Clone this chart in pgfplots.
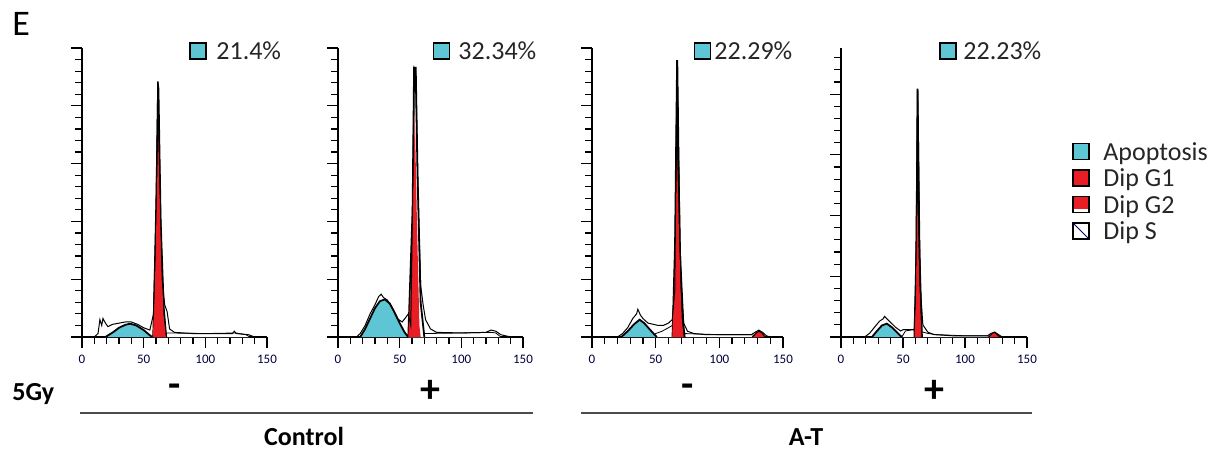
\documentclass[border=0pt]{standalone}
\usepackage{pgfplots}
\pgfplotsset{compat=1.18}
\usepackage{fontspec}
\setmainfont{Carlito}
\definecolor{apo}{RGB}{94,197,212}
\definecolor{dipred}{RGB}{232,30,36}

% one DNA-content histogram per panel, 1px of the reference = 0.5pt
\pgfplotsset{hist/.style={
  scale only axis, height=144.5pt, anchor=south west,
  xmin=0, xmax=150, ymin=0,
  axis lines*=left, clip=false,
  xtick={0,50,100,150}, minor x tick num=4,
  ytick distance=5, minor y tick num=4, yticklabels={},
  tick align=outside, major tick length=5.5pt, minor tick length=3.5pt,
  axis line style={line width=0.8pt}, tick style={black, line width=0.6pt},
  xticklabel style={font=\fontsize{6.5}{7}\selectfont, text=black!70!blue!80!black},
  /pgf/number format/assume math mode=true},
  sfill/.style={draw=black, line width=0.4pt, fill=white},
  apofill/.style={fill=apo, draw=black, line width=0.9pt},
  spike/.style={fill=black, draw=black, line width=0.6pt},
  g1fill/.style={fill=dipred, draw=none},
  raw/.style={black, line width=0.5pt}}

\newcommand{\pct}[3]{% square centre x, text x, text
  \draw[fill=apo, line width=0.6pt] (#1-4pt,196.5pt) rectangle (#1+4pt,204.5pt);
  \node[anchor=base west, inner sep=0pt, text=black!85, font=\fontsize{13}{14}\selectfont] at (#2,196.5pt) {#3};}

\begin{document}
\begin{tikzpicture}
\useasboundingbox (0,0) rectangle (611pt,226pt);

\node[anchor=base west, inner sep=0pt, font=\fontsize{18}{19}\selectfont] at (6pt,208.5pt) {E};

% ---- Control, 5Gy - ----
\begin{axis}[hist, at={(41pt,57.5pt)}, width=92.5pt, ymax=25]
\addplot[sfill] coordinates {(56,0) (60,0.3) (70,0.35) (100,0.3) (125,0.35) (133,0.2) (136,0)};
\addplot[apofill] coordinates {(19,0) (25,0.4) (30,0.8) (35,1.05) (39,1.15) (44,1.0) (50,0.6) (55,0.15) (57,0)};
\addplot[spike] coordinates {(57.5,0) (60,10) (61.5,22.1) (62.2,21.5) (64,10) (66.5,2.5) (68.5,0)};
\addplot[g1fill] coordinates {(57.5,0) (59.5,6) (61.8,17.9) (64,8) (66,2) (68,0)};
\addplot[raw] coordinates {(10,0) (13,0.3) (14.5,1.5) (16,1.0) (17,1.6) (19,1.2) (21,0.9) (25,1.1)
  (30,1.2) (35,1.3) (40,1.3) (45,1.1) (50,0.8) (55,0.6) (58,2) (60,12) (61.5,22.1) (63,14)
  (65,5) (67,2.8) (69,2.2) (71,0.7) (75,0.4) (90,0.3) (110,0.3) (122,0.3) (123.5,0.5)
  (125,0.3) (135,0.2) (140,0)};
\draw[line width=0.8pt] (axis cs:0,0) -- ++(-4pt,0);
\end{axis}

% ---- Control, 5Gy + ----
\begin{axis}[hist, at={(169pt,57.5pt)}, width=92.5pt, ymax=25]
\addplot[sfill] coordinates {(57,0) (62,0.25) (70,0.3) (100,0.35) (124,0.4) (128,0.35) (132,0)};
\addplot[apofill] coordinates {(18,0) (22,0.7) (26,1.6) (30,2.5) (34,3.1) (38,3.25) (42,2.9)
  (46,2.1) (50,1.2) (54,0.4) (57,0)};
\addplot[fill=white, draw=black, line width=0.9pt] coordinates {(57,0) (60.5,11) (61.7,23.3)
  (63,23.3) (64.5,14) (67,3) (69,1) (70,0)};
\addplot[g1fill] coordinates {(57,0) (60,7) (62.2,19.5) (64,10) (66,1) (67,0)};
\addplot[raw] coordinates {(15,0) (18,0.3) (22,1) (26,2) (30,2.8) (33,3.5) (35,3.7) (37,3.4)
  (40,3.2) (44,2.5) (48,1.6) (52,1.3) (55,1.7) (57,2.0) (59,1) (60,8) (61.8,23.3) (63,23)
  (65,12) (67,4.5) (69,2.8) (71,1.5) (75,0.7) (80,0.4) (100,0.35) (120,0.4) (124,0.6)
  (128,0.5) (132,0.2) (140,0)};
\draw[line width=0.8pt] (axis cs:0,0) -- ++(-4pt,0);
\end{axis}

% ---- A-T, 5Gy - ----
\begin{axis}[hist, at={(296pt,57.5pt)}, width=95.5pt, ymax=25]
\addplot[sfill] coordinates {(48,0) (50,0.3) (55,0.5) (60,0.8) (63,1.0) (65,0.6) (72,0.3)
  (100,0.2) (125,0.2) (130,0.1) (132,0)};
\addplot[apofill] coordinates {(23,0) (28,0.5) (33,1.1) (37.4,1.5) (41,1.2) (45,0.7) (50,0.1) (51,0)};
\addplot[spike] coordinates {(63,0) (65,8) (66.6,23.9) (67.2,23.9) (69,8) (72,1) (73,0)};
\addplot[g1fill] coordinates {(63,0) (65,6) (66.8,16) (68.5,8) (70.5,1.5) (72,0)};
\addplot[fill=dipred, draw=black, line width=0.5pt] coordinates {(126,0) (129,0.35) (131,0.5)
  (133,0.4) (136,0)};
\addplot[raw] coordinates {(20,0) (24,0.3) (28,0.8) (32,1.6) (35,2.0) (36,2.4) (38,1.9) (40,1.6)
  (44,1.2) (48,1.1) (52,1.0) (56,1.0) (60,1.2) (63,1.5) (65,4) (66.8,23.9) (68,16) (70,4)
  (72,1.2) (75,0.5) (80,0.3) (90,0.2) (125,0.2) (128,0.4) (131,0.6) (134,0.4) (137,0.1) (140,0)};
\draw[line width=0.8pt] (axis cs:0,0) -- ++(-4pt,0);
\end{axis}

% ---- A-T, 5Gy + ----
\begin{axis}[hist, at={(420.5pt,57.5pt)}, width=93pt, ymax=23.8]
\addplot[sfill] coordinates {(49,0) (52,0.5) (58,0.6) (60,0.5) (66,0.4) (70,0.3) (76,0.2)
  (100,0.1) (118,0.1) (122,0)};
\addplot[apofill] coordinates {(25,0) (29,0.5) (33,0.95) (37,1.1) (41,0.8) (45,0.4) (49,0)};
\addplot[spike] coordinates {(59,0) (60.8,8) (61.5,20.4) (62,20.4) (63.2,8) (65.5,0)};
\addplot[g1fill] coordinates {(59.3,0) (60.5,5) (61.7,11) (63,5) (64.8,0)};
\addplot[fill=dipred, draw=black, line width=0.5pt] coordinates {(119,0) (122,0.3) (124,0.4)
  (127,0.1) (128,0)};
\addplot[raw] coordinates {(19,0) (23,0.3) (27,0.8) (31,1.3) (34,1.5) (35,1.7) (37,1.5) (40,1.2)
  (44,0.8) (48,0.5) (50,0.6) (55,0.6) (59,0.6) (60,3) (61.7,20.4) (62.5,16) (64,4) (66,1)
  (70,0.4) (75,0.2) (90,0.1) (118,0.1) (121,0.3) (124,0.4) (127,0.2) (130,0)};
\draw[line width=0.8pt] (axis cs:0,0) -- ++(-4pt,0);
\end{axis}

% apoptosis percentages
\pct{99pt}{108pt}{21.4\%}
\pct{220.75pt}{229pt}{32.34\%}
\pct{351.25pt}{357pt}{22.29\%}
\pct{474pt}{481.5pt}{22.23\%}

% legend
\begin{scope}[line width=0.6pt]
\draw[fill=apo] (536.5pt,146.25pt) rectangle (544.5pt,154.25pt);
\draw[fill=dipred] (536.5pt,133pt) rectangle (544.5pt,141pt);
\draw[fill=dipred] (536.5pt,119.75pt) rectangle (544.5pt,127.75pt);
\fill[white] (536.8pt,120.05pt) rectangle (544.2pt,121.3pt);
\draw[fill=white] (536.5pt,106.5pt) rectangle (544.5pt,114.5pt);
\draw[blue!40!black, line width=0.5pt] (536.5pt,114.5pt) -- (544.5pt,106.5pt);
\end{scope}
\begin{scope}[every node/.style={anchor=base west, inner sep=0pt, text=black!85,
    font=\fontsize{13}{14}\selectfont}]
\node at (551.5pt,146pt) {Apoptosis};
\node at (551.5pt,132.75pt) {Dip G1};
\node at (551.5pt,119.5pt) {Dip G2};
\node at (551.5pt,106.25pt) {Dip S};
\end{scope}

% treatment labels
\node[anchor=base west, inner sep=0pt, font=\fontsize{13}{14}\selectfont\bfseries] at (6pt,26pt) {5Gy};
\begin{scope}[every node/.style={inner sep=0pt, font=\fontsize{20}{21}\selectfont\bfseries}]
\node at (87.5pt,30.5pt) {-};
\node at (215pt,30.5pt) {+};
\node at (344pt,30.5pt) {-};
\node at (467pt,30.5pt) {+};
\end{scope}
\draw[line width=1pt, black!70] (40pt,19.5pt) -- (266.5pt,19.5pt);
\draw[line width=1pt, black!70] (290.5pt,19.5pt) -- (516pt,19.5pt);
\node[anchor=base, inner sep=0pt, font=\fontsize{13}{14}\selectfont\bfseries] at (152pt,3.5pt) {Control};
\node[anchor=base, inner sep=0pt, font=\fontsize{13}{14}\selectfont\bfseries] at (403pt,3.5pt) {A-T};
\end{tikzpicture}
\end{document}
